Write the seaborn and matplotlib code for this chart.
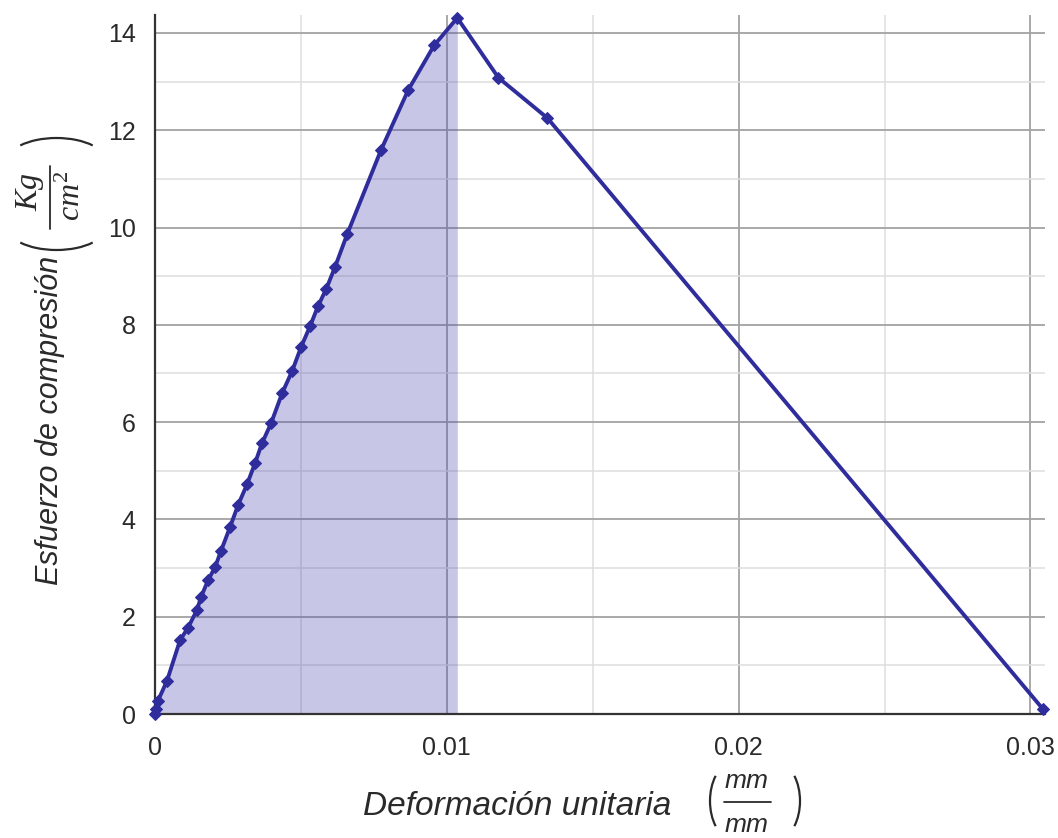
import matplotlib
matplotlib.use("Agg")
import matplotlib.pyplot as plt
from matplotlib.ticker import MultipleLocator, FixedLocator, FixedFormatter
from matplotlib.patches import Arc
from matplotlib.lines import Line2D
import numpy as np
import pandas as pd
import seaborn as sns

# Unit strain (mm/mm) and compressive stress (Kg/cm^2) of the test specimen
deformacion = [0.0, 0.00003, 0.00010, 0.00041, 0.00086, 0.00113, 0.00144, 0.00158,
               0.00182, 0.00206, 0.00226, 0.00257, 0.00285, 0.00316, 0.00343,
               0.00367, 0.00398, 0.00436, 0.00470, 0.00501, 0.00532, 0.00559,
               0.00587, 0.00617, 0.00659, 0.00775, 0.00868, 0.00957, 0.01036,
               0.01177, 0.01345, 0.03043]
esfuerzo = [0.0, 0.10, 0.27, 0.68, 1.52, 1.77, 2.14, 2.41,
            2.75, 3.02, 3.35, 3.84, 4.30, 4.73, 5.16,
            5.57, 5.98, 6.60, 7.05, 7.55, 7.98, 8.39,
            8.74, 9.19, 9.87, 11.60, 12.83, 13.75, 14.31,
            13.08, 12.25, 0.10]

x_ticks = [0.0, 0.01, 0.02, 0.03]
x_tick_labels = ["0", "0.01", "0.02", "0.03"]
y_ticks = [0, 2, 4, 6, 8, 10, 12, 14]

x_title = "Deformación unitaria"
x_unit_num, x_unit_den = "mm", "mm"
y_title = "Esfuerzo de compresión"
y_unit_num, y_unit_den = r"$Kg$", r"$cm^{2}$"

df = pd.DataFrame({"deformacion": deformacion, "esfuerzo": esfuerzo})

sns.set_theme(style="white")
plt.rcParams["font.family"] = ["Liberation Sans", "DejaVu Sans"]
plt.rcParams["mathtext.fontset"] = "custom"
plt.rcParams["mathtext.it"] = "Liberation Serif:italic"
plt.rcParams["mathtext.rm"] = "Liberation Serif"

W, H = 1058, 838
fig = plt.figure(figsize=(W / 100, H / 100), dpi=100)
ax = fig.add_axes([155 / W, 1 - 714 / H, 890 / W, 699 / H])

line_color = "#2f2d9c"
text_color = "#2a2a2a"

# Area under the ascending branch up to the peak stress
i_peak = int(np.argmax(esfuerzo))
ax.fill_between(deformacion[: i_peak + 1], esfuerzo[: i_peak + 1], 0,
                color="#4a45b0", alpha=0.30, linewidth=0, zorder=2)

sns.lineplot(data=df, x="deformacion", y="esfuerzo", ax=ax, color=line_color,
             linewidth=2.8, marker="D", markersize=6, markeredgecolor=line_color,
             sort=False, zorder=4, clip_on=False)

ax.set_xlim(0, 0.0305)
ax.set_ylim(0, 14.37)

ax.xaxis.set_major_locator(FixedLocator(x_ticks))
ax.xaxis.set_major_formatter(FixedFormatter(x_tick_labels))
ax.xaxis.set_minor_locator(MultipleLocator(0.005))
ax.yaxis.set_major_locator(FixedLocator(y_ticks))
ax.yaxis.set_minor_locator(MultipleLocator(1))

ax.grid(which="major", color="#a3a3a3", linewidth=1.3, zorder=0)
ax.grid(which="minor", color="#dedede", linewidth=1.1, zorder=0)
ax.set_axisbelow(True)

for side in ("top", "right"):
    ax.spines[side].set_visible(False)
for side in ("left", "bottom"):
    ax.spines[side].set_color("#333333")
    ax.spines[side].set_linewidth(1.6)

ax.tick_params(axis="x", which="major", labelsize=18, colors=text_color,
               length=0, pad=16)
ax.tick_params(axis="y", which="major", labelsize=18, colors=text_color,
               length=0, pad=14)
ax.tick_params(axis="both", which="minor", length=0)
ax.set_xlabel("")
ax.set_ylabel("")


def fx(px):
    return px / W


def fy(py):
    return 1 - py / H


def paren(cx, cy, a, b, t1, t2):
    """Curved bracket drawn as an elliptic arc, centre and radii in pixels."""
    fig.add_artist(Arc((fx(cx), fy(cy)), 2 * a / W, 2 * b / H, theta1=t1,
                       theta2=t2, transform=fig.transFigure, color=text_color,
                       linewidth=1.6))


def bar(x0, y0, x1, y1):
    fig.add_artist(Line2D([fx(x0), fx(x1)], [fy(y0), fy(y1)],
                          transform=fig.transFigure, color=text_color,
                          linewidth=1.3))


# Horizontal axis title with units mm/mm
fig.text(fx(517), fy(815), x_title, fontsize=24, style="italic",
         color=text_color, ha="center", va="baseline")
fig.text(fx(747), fy(788), x_unit_num, fontsize=19, style="italic",
         color=text_color, ha="center", va="baseline")
fig.text(fx(747), fy(832), x_unit_den, fontsize=19, style="italic",
         color=text_color, ha="center", va="baseline")
bar(724, 802, 771, 802)
paren(734, 801, 24, 39, 120, 240)
paren(776, 801, 24, 39, -60, 60)

# Vertical axis title with units Kg/cm^2
fig.text(fx(50), fy(420), y_title, fontsize=22, style="italic",
         color=text_color, ha="center", va="center", rotation=90)
fig.text(fx(30), fy(192), y_unit_num, fontsize=23, color=text_color,
         ha="center", va="center", rotation=90)
fig.text(fx(72), fy(196), y_unit_den, fontsize=23, color=text_color,
         ha="center", va="center", rotation=90)
bar(50, 166, 50, 229)
paren(56.5, 162, 50, 24, 30, 150)
paren(56.5, 226, 50, 24, 210, 330)

fig.savefig("out.png", dpi=100)
